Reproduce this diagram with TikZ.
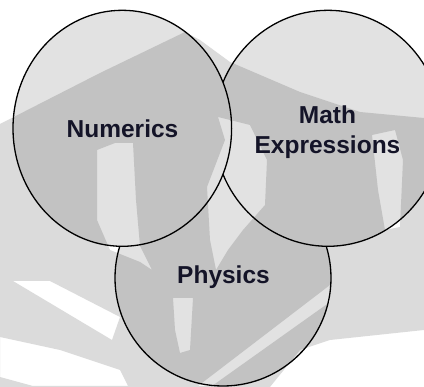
\documentclass[tikz,border=0pt]{standalone}
\usepackage{fontspec}
\setmainfont{Liberation Sans}
\definecolor{circfill}{HTML}{E2E2E2}
\definecolor{txt}{HTML}{141428}
\begin{document}
\begin{tikzpicture}[x=1pt,y=-1pt,
  setcirc/.style={draw=black,line width=1.3pt,fill=circfill},
  lbl/.style={font=\fontsize{24.5}{30}\selectfont\bfseries,text=txt,inner sep=0pt,align=center},
  wmark/.style={fill=black,fill opacity=0.14,even odd rule,draw=none}]
\useasboundingbox (0,0) rectangle (424,387);
\fill[white] (0,0) rectangle (424,387);
% circles (back to front)
\draw[setcirc] (223,278) ellipse [x radius=108,y radius=108];
\draw[setcirc] (328,128.3) ellipse [x radius=114,y radius=118];
\draw[setcirc] (122.3,128.3) ellipse [x radius=109.3,y radius=118];
% watermark overlay
\fill[wmark]
  (0,124) -- (100,73) -- (185,32) -- (200,40) -- (230,62) -- (300,92) -- (360,112) -- (424,118)
  -- (424,330) -- (330,340) -- (300,350) -- (270,387) -- (0,387) -- cycle
  % Numerics crescent
  (97,150) -- (115,143) -- (133,143) -- (136,200) -- (140,246) -- (152,270) -- (140,262) -- (110,250) -- (97,220) -- cycle
  % central light area
  (218,117) -- (250,125) -- (267,160) -- (265,205) -- (243,230) -- (228,250) -- (216,270) -- (210,240) -- (207,187) -- (225,140) -- cycle
  % Math right band
  (372,135) -- (395,130) -- (403,160) -- (400,227) -- (385,230) -- (378,190) -- cycle
  % Physics drop
  (173,298) -- (193,298) -- (190,350) -- (180,353) -- (175,330) -- cycle
  % Physics stripe
  (198,386) -- (212,386) -- (330,302) -- (330,285) -- cycle
  % left stripe
  (13,281) -- (50,281) -- (120,317) -- (112,340) -- cycle
  % bottom-left white
  (0,337) -- (60,350) -- (120,370) -- (128,386) -- (33,386) -- (0,377) -- cycle;
% labels
\node[lbl,anchor=base] (num) at (122.5,137.3) {Numerics};
\node[lbl] (math) at (327.5,132) {Math\\Expressions};
\node[lbl,anchor=base] (phys) at (223.5,283.3) {Physics};
\end{tikzpicture}
\end{document}
